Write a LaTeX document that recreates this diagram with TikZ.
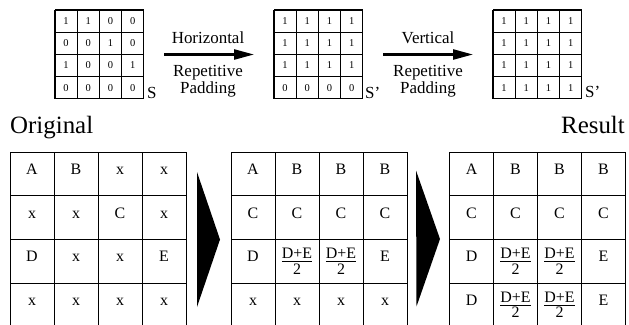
\documentclass[tikz,border=0pt]{standalone}
\usepackage{fontspec}
\setmainfont{Liberation Serif}
\usetikzlibrary{arrows.meta}
\newcommand{\fr}{\raisebox{-4bp}{$\textstyle\frac{\mbox{D+E}\rule[-1.2bp]{0pt}{1pt}}{\mbox{\rule{0pt}{12bp}2}}$}}
\begin{document}
\begin{tikzpicture}[x=1bp,y=-1bp,
  digit/.style={font=\fontsize{10.5}{12}\selectfont, inner sep=0pt},
  lab/.style={font=\fontsize{17}{19}\selectfont, inner sep=0pt, anchor=base},
  cellt/.style={font=\fontsize{16}{18}\selectfont, inner sep=0pt, anchor=base},
  big/.style={font=\fontsize{25}{28}\selectfont, inner sep=0pt},
  topgrid/.style={line width=1.2bp},
  botgrid/.style={line width=0.9bp},
  padarrow/.style={line width=2.5bp, -{Triangle[length=20bp,width=10bp]}}]
\useasboundingbox (0,0) rectangle (629,324);
\clip (0,0) rectangle (629,324);

% ---------- top small grids ----------
\def\ts{22.2}
\foreach \gx/\gn/\data in {
  55/ga/{{1,1,0,0},{0,0,1,0},{1,0,0,1},{0,0,0,0}},
  274/gb/{{1,1,1,1},{1,1,1,1},{1,1,1,1},{0,0,0,0}},
  493/gc/{{1,1,1,1},{1,1,1,1},{1,1,1,1},{1,1,1,1}}}{
  \foreach \i in {0,...,4}{
    \draw[topgrid] ({\gx+\i*\ts},10) -- ({\gx+\i*\ts},{10+4*\ts});
    \draw[topgrid] (\gx,{10+\i*\ts}) -- ({\gx+4*\ts},{10+\i*\ts});
  }
  \foreach \row [count=\r from 0] in \data{
    \foreach \v [count=\c from 0] in \row{
      \node[digit] (\gn-\r-\c) at ({\gx+(\c+0.5)*\ts},{10+(\r+0.5)*\ts}) {\v};
    }
  }
}
\node[lab, anchor=base west] (sA) at (147,98) {S};
\node[lab, anchor=base west] (sB) at (365,98) {S'};
\node[lab, anchor=base west] (sC) at (585,97) {S'};

% ---------- padding arrows ----------
\coordinate (h1) at (164,54.5);
\coordinate (h2) at (254,54.5);
\draw[padarrow] (h1) -- (h2);
\node[lab] (hz) at (208,43) {Horizontal};
\node[lab] (hr) at (208,76.5) {Repetitive};
\node[lab] (hp) at (208,93.5) {Padding};

\coordinate (v1) at (383,54.5);
\coordinate (v2) at (473,54.5);
\draw[padarrow] (v1) -- (v2);
\node[lab] (vt) at (428,43) {Vertical};
\node[lab] (vr) at (428,76.5) {Repetitive};
\node[lab] (vp) at (428,93.5) {Padding};

% ---------- titles ----------
\node[big, anchor=base west] (orig) at (10,133) {Original};
\node[big, anchor=base east] (res) at (625,133) {Result};

% ---------- bottom grids ----------
\def\cw{44}
\def\ch{43.7}
\foreach \gx/\gn/\data in {
  10/ba/{{A,B,x,x},{x,x,C,x},{D,x,x,E},{x,x,x,x}},
  231/bb/{{A,B,B,B},{C,C,C,C},{D,\fr,\fr,E},{x,x,x,x}},
  449.5/bc/{{A,B,B,B},{C,C,C,C},{D,\fr,\fr,E},{D,\fr,\fr,E}}}{
  \foreach \i in {0,...,4}{
    \draw[botgrid] ({\gx+\i*\cw},152) -- ({\gx+\i*\cw},{152+4*\ch});
    \draw[botgrid] (\gx,{152+\i*\ch}) -- ({\gx+4*\cw},{152+\i*\ch});
  }
  \foreach \row [count=\r from 0] in \data{
    \foreach \v [count=\c from 0] in \row{
      \node[cellt] (\gn-\r-\c) at ({\gx+(\c+0.5)*\cw},{152+(\r+0.5)*\ch+0.5}) {\v};
    }
  }
}

% ---------- big step triangles ----------
\fill (197,172) -- (220,239.5) -- (197,307) -- cycle;
\fill (416,170.5) -- (440,239) -- (416.5,306.5) -- cycle;
\end{tikzpicture}
\end{document}
